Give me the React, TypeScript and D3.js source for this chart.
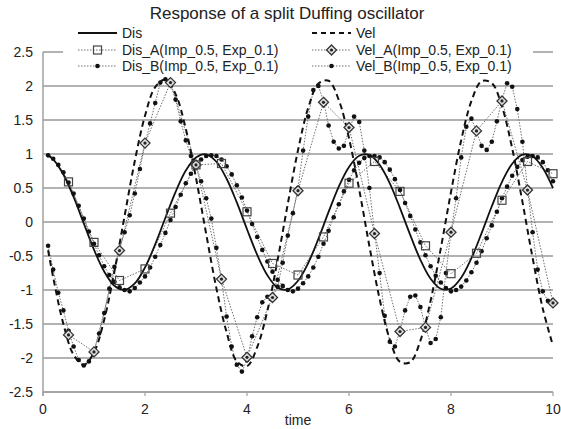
import React from "react";
import * as d3 from "d3";

const W = 561;
const H = 429;

const TITLE = "Response of a split Duffing oscillator";

// Reference solution (Dis, Vel)
const tMain = [0.1, 0.2, 0.4, 0.6, 0.8, 1.0, 1.2, 1.4, 1.6, 1.8, 2.0, 2.2, 2.4, 2.6, 2.8, 3.0, 3.2, 3.4, 3.6, 3.8, 4.0, 4.2, 4.4, 4.6, 4.8, 5.0, 5.2, 5.4, 5.6, 5.8, 6.0, 6.2, 6.4, 6.6, 6.8, 7.0, 7.2, 7.4, 7.6, 7.8, 8.0, 8.2, 8.4, 8.6, 8.8, 9.0, 9.2, 9.4, 9.6, 9.8, 10.0];
const disMain = [0.98, 0.922, 0.699, 0.368, -0.021, -0.407, -0.728, -0.938, -0.999, -0.904, -0.668, -0.328, 0.063, 0.444, 0.757, 0.95, 0.996, 0.886, 0.636, 0.288, -0.106, -0.483, -0.784, -0.965, -0.992, -0.864, -0.603, -0.247, 0.148, 0.521, 0.81, 0.974, 0.986, 0.843, 0.569, 0.205, -0.19, -0.556, -0.834, -0.982, -0.978, -0.82, -0.533, -0.164, 0.231, 0.591, 0.857, 0.99, 0.968, 0.795, 0.498];
const velMain = [-0.416, -0.814, -1.501, -1.953, -2.1, -1.918, -1.437, -0.728, 0.089, 0.897, 1.562, 1.984, 2.096, 1.881, 1.371, 0.647, -0.178, -0.975, -1.62, -2.05, -2.12, -1.839, -1.304, -0.559, 0.267, 1.056, 1.677, 2.035, 2.077, 1.793, 1.231, 0.477, -0.355, -1.13, -1.728, -2.056, -2.062, -1.745, -1.157, -0.387, 0.441, 1.203, 1.777, 2.071, 2.043, 1.695, 1.082, 0.3, -0.527, -1.275, -1.821];

// Method A (step 0.5)
const tA = [0.5, 1.0, 1.5, 2.0, 2.5, 3.0, 3.5, 4.0, 4.5, 5.0, 5.5, 6.0, 6.5, 7.0, 7.5, 8.0, 8.5, 9.0, 9.5, 10.0];
const disA = [0.59, -0.3, -0.86, -0.69, 0.13, 0.84, 0.86, 0.15, -0.61, -0.78, -0.22, 0.57, 0.89, 0.45, -0.35, -0.76, -0.46, 0.32, 0.89, 0.71];
const velA = [-1.66, -1.91, -0.42, 1.16, 2.05, 0.84, -0.84, -1.99, -1.11, 0.46, 1.76, 1.39, -0.17, -1.61, -1.55, -0.15, 1.34, 1.78, 0.47, -1.19];

// Method B (step 0.1)
const tB = [
  0.1, 0.2, 0.3, 0.4, 0.5, 0.6, 0.7, 0.8, 0.9, 1.0,
  1.1, 1.2, 1.3, 1.4, 1.5, 1.6, 1.7, 1.8, 1.9, 2.0,
  2.1, 2.2, 2.3, 2.4, 2.5, 2.6, 2.7, 2.8, 2.9, 3.0,
  3.1, 3.2, 3.3, 3.4, 3.5, 3.6, 3.7, 3.8, 3.9, 4.0,
  4.1, 4.2, 4.3, 4.4, 4.5, 4.6, 4.7, 4.8, 4.9, 5.0,
  5.1, 5.2, 5.3, 5.4, 5.5, 5.6, 5.7, 5.8, 5.9, 6.0,
  6.1, 6.2, 6.3, 6.4, 6.5, 6.6, 6.7, 6.8, 6.9, 7.0,
  7.1, 7.2, 7.3, 7.4, 7.5, 7.6, 7.7, 7.8, 7.9, 8.0,
  8.1, 8.2, 8.3, 8.4, 8.5, 8.6, 8.7, 8.8, 8.9, 9.0,
  9.1, 9.2, 9.3, 9.4, 9.5, 9.6, 9.7, 9.8, 9.9, 10.0,
];
const disB = [
  0.98, 0.93, 0.84, 0.73, 0.58, 0.42, 0.24, 0.05, -0.14, -0.32,
  -0.49, -0.65, -0.78, -0.88, -0.96, -1.0, -1.02, -0.97, -0.89, -0.8,
  -0.67, -0.51, -0.34, -0.16, 0.03, 0.22, 0.4, 0.57, 0.71, 0.83,
  0.92, 0.97, 0.98, 0.97, 0.92, 0.82, 0.7, 0.54, 0.36, 0.17,
  -0.03, -0.22, -0.41, -0.58, -0.73, -0.85, -0.94, -1.0, -1.02, -0.98,
  -0.9, -0.8, -0.67, -0.51, -0.32, -0.13, 0.07, 0.26, 0.45, 0.62,
  0.76, 0.87, 0.94, 0.97, 0.97, 0.95, 0.88, 0.77, 0.63, 0.47,
  0.28, 0.09, -0.11, -0.3, -0.49, -0.65, -0.79, -0.89, -0.97, -1.02,
  -1.0, -0.95, -0.86, -0.74, -0.6, -0.43, -0.24, -0.05, 0.15, 0.35,
  0.52, 0.68, 0.81, 0.91, 0.96, 0.97, 0.95, 0.88, 0.76, 0.6,
];
const velB = [
  -0.35, -0.7, -1.04, -1.3, -1.6, -1.83, -2.03, -2.11, -2.05, -1.9,
  -1.64, -1.34, -0.98, -0.66, -0.4, -0.15, 0.1, 0.42, 0.78, 1.15,
  1.45, 1.75, 2.05, 2.1, 2.02, 1.8, 1.48, 1.2, 0.97, 0.84,
  0.6, 0.35, 0.05, -0.38, -0.85, -1.39, -1.83, -2.1, -2.2, -2.03,
  -1.68, -1.4, -1.18, -1.1, -1.1, -0.95, -0.6, -0.2, 0.13, 0.5,
  1.05, 1.55, 1.94, 2.0, 1.78, 1.42, 1.18, 1.08, 1.12, 1.36,
  1.55, 1.47, 1.05, 0.5, -0.15, -0.75, -1.38, -1.76, -1.83, -1.6,
  -1.3, -1.1, -1.08, -1.25, -1.55, -1.78, -1.72, -1.4, -0.75, -0.15,
  0.35, 0.95, 1.4, 1.52, 1.33, 1.12, 1.06, 1.18, 1.48, 1.8,
  2.04, 1.99, 1.66, 1.18, 0.5, -0.15, -0.7, -1.02, -1.16, -1.2,
];

const yTicks = [2.5, 2, 1.5, 1, 0.5, 0, -0.5, -1, -1.5, -2, -2.5];
const yTickLabels = ["2.5", "2", "1.5", "1", "0.5", "0", "-0.5", "-1", "-1.5", "-2", "-2.5"];
const xTicks = [0, 2, 4, 6, 8, 10];
const xTickLabels = ["0", "2", "4", "6", "8", "10"];
const X_LABEL = "time";

const legendNames = {
  dis: "Dis",
  vel: "Vel",
  disA: "Dis_A(Imp_0.5, Exp_0.1)",
  velA: "Vel_A(Imp_0.5, Exp_0.1)",
  disB: "Dis_B(Imp_0.5, Exp_0.1)",
  velB: "Vel_B(Imp_0.5, Exp_0.1)",
};

const FONT = "'Liberation Sans', Arial, Helvetica, sans-serif";
const GRID = "#b2b2b2";
const DOT_LINE = "#6e6e6e";

const x = d3.scaleLinear().domain([0, 10]).range([43, 553]);
const y = d3.scaleLinear().domain([-2.5, 2.5]).range([392, 52]);

function pts(ts: number[], vs: number[]): [number, number][] {
  return ts.map((t, i) => [t, vs[i]]);
}

const smooth = d3
  .line<[number, number]>()
  .x((d) => x(d[0]))
  .y((d) => y(d[1]))
  .curve(d3.curveCatmullRom);
const straight = d3
  .line<[number, number]>()
  .x((d) => x(d[0]))
  .y((d) => y(d[1]));

function Square({ cx, cy }: { cx: number; cy: number }) {
  return <rect x={cx - 4} y={cy - 4} width={8} height={8} fill="none" stroke="#444" strokeWidth={1.2} />;
}
function Diamond({ cx, cy }: { cx: number; cy: number }) {
  const r = 5;
  return (
    <g>
      <path
        d={`M${cx},${cy - r}L${cx + r},${cy}L${cx},${cy + r}L${cx - r},${cy}Z`}
        fill="#e0e0e0"
        stroke="#333"
        strokeWidth={1.3}
      />
      <circle cx={cx} cy={cy} r={1.6} fill="#222" />
    </g>
  );
}
function Dot({ cx, cy }: { cx: number; cy: number }) {
  return <circle cx={cx} cy={cy} r={2.3} fill="#111" />;
}

export default function App() {
  const dA = pts(tA, disA);
  const vA = pts(tA, velA);
  const dB = pts(tB, disB);
  const vB = pts(tB, velB);
  const dM = pts(tMain, disMain);
  const vM = pts(tMain, velMain);

  const col1 = { x0: 78, x1: 117, tx: 122 };
  const col2 = { x0: 312, x1: 351, tx: 356 };
  const rows = [33, 50, 66];

  return (
    <svg
      width={W}
      height={H}
      style={{ position: "absolute", left: 0, top: 0, background: "#fff" }}
      fontFamily={FONT}
    >
      <rect x={0} y={0} width={W} height={H} fill="#fff" />
      {/* gridlines */}
      {yTicks.map((v) => (
        <line key={v} x1={x(0)} x2={x(10)} y1={y(v)} y2={y(v)} stroke={GRID} strokeWidth={1.8} />
      ))}
      {/* axes */}
      <line x1={x(0)} x2={x(0)} y1={y(2.5)} y2={y(-2.5) + 4} stroke="#a0a0a0" strokeWidth={1.5} />
      <line x1={x(0)} x2={x(10)} y1={y(-2.5)} y2={y(-2.5)} stroke="#a0a0a0" strokeWidth={1.5} />
      {xTicks.map((t) => (
        <line key={t} x1={x(t)} x2={x(t)} y1={y(-2.5)} y2={y(-2.5) + 4} stroke="#a0a0a0" strokeWidth={1.2} />
      ))}
      {yTicks.map((v, i) => (
        <text key={v} x={33} y={y(v)} textAnchor="end" dominantBaseline="central" fontSize={14} fill="#222">
          {yTickLabels[i]}
        </text>
      ))}
      {xTicks.map((t, i) => (
        <text key={t} x={x(t)} y={409} textAnchor="middle" dominantBaseline="central" fontSize={14} fill="#222">
          {xTickLabels[i]}
        </text>
      ))}
      <text x={298} y={420} textAnchor="middle" dominantBaseline="central" fontSize={14} fill="#222">
        {X_LABEL}
      </text>

      {/* Method A */}
      <path d={straight(dA) || ""} fill="none" stroke={DOT_LINE} strokeWidth={1} strokeDasharray="1.5 1.5" />
      <path d={straight(vA) || ""} fill="none" stroke={DOT_LINE} strokeWidth={1} strokeDasharray="1.5 1.5" />
      {/* Method B */}
      <path d={straight(dB) || ""} fill="none" stroke={DOT_LINE} strokeWidth={1} strokeDasharray="1.5 1.5" />
      <path d={straight(vB) || ""} fill="none" stroke={DOT_LINE} strokeWidth={1} strokeDasharray="1.5 1.5" />
      {dB.map((d, i) => (
        <Dot key={"db" + i} cx={x(d[0])} cy={y(d[1])} />
      ))}
      {vB.map((d, i) => (
        <Dot key={"vb" + i} cx={x(d[0])} cy={y(d[1])} />
      ))}
      {/* Reference */}
      <path d={smooth(dM) || ""} fill="none" stroke="#111" strokeWidth={1.8} />
      <path d={smooth(vM) || ""} fill="none" stroke="#111" strokeWidth={2} strokeDasharray="6 4" />
      {vA.map((d, i) => (
        <Diamond key={"va" + i} cx={x(d[0])} cy={y(d[1])} />
      ))}
      {dA.map((d, i) => (
        <Square key={"da" + i} cx={x(d[0])} cy={y(d[1])} />
      ))}

      {/* Legend */}
      <rect x={63} y={24} width={470} height={50} fill="#fff" />
      <g fontSize={14} fill="#222">
        <line x1={col1.x0} x2={col1.x1} y1={rows[0]} y2={rows[0]} stroke="#111" strokeWidth={1.8} />
        <text x={col1.tx} y={rows[0]} dominantBaseline="central">{legendNames.dis}</text>
        <line x1={col2.x0} x2={col2.x1} y1={rows[0]} y2={rows[0]} stroke="#111" strokeWidth={2} strokeDasharray="5 4" />
        <text x={col2.tx} y={rows[0]} dominantBaseline="central">{legendNames.vel}</text>

        <line x1={col1.x0} x2={col1.x1} y1={rows[1]} y2={rows[1]} stroke={DOT_LINE} strokeWidth={1} strokeDasharray="1.5 1.5" />
        <Square cx={(col1.x0 + col1.x1) / 2} cy={rows[1]} />
        <text x={col1.tx} y={rows[1]} dominantBaseline="central">{legendNames.disA}</text>
        <line x1={col2.x0} x2={col2.x1} y1={rows[1]} y2={rows[1]} stroke={DOT_LINE} strokeWidth={1} strokeDasharray="1.5 1.5" />
        <Diamond cx={(col2.x0 + col2.x1) / 2} cy={rows[1]} />
        <text x={col2.tx} y={rows[1]} dominantBaseline="central">{legendNames.velA}</text>

        <line x1={col1.x0} x2={col1.x1} y1={rows[2]} y2={rows[2]} stroke={DOT_LINE} strokeWidth={1} strokeDasharray="1.5 1.5" />
        <Dot cx={(col1.x0 + col1.x1) / 2} cy={rows[2]} />
        <text x={col1.tx} y={rows[2]} dominantBaseline="central">{legendNames.disB}</text>
        <line x1={col2.x0} x2={col2.x1} y1={rows[2]} y2={rows[2]} stroke={DOT_LINE} strokeWidth={1} strokeDasharray="1.5 1.5" />
        <Dot cx={(col2.x0 + col2.x1) / 2} cy={rows[2]} />
        <text x={col2.tx} y={rows[2]} dominantBaseline="central">{legendNames.velB}</text>
      </g>

      <text x={287} y={13} textAnchor="middle" dominantBaseline="central" fontSize={17} fill="#222">
        {TITLE}
      </text>
    </svg>
  );
}
